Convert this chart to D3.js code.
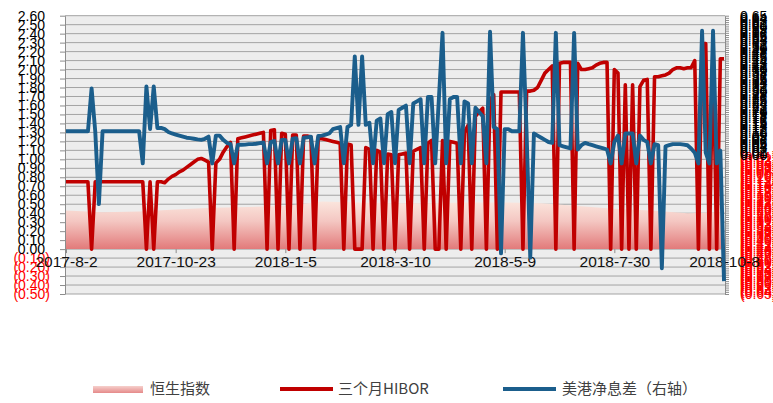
<!DOCTYPE html>
<html>
<head>
<meta charset="utf-8">
<script src="https://d3js.org/d3.v7.min.js"></script>
<style>
  body { margin: 0; background: #fff; }
  svg { font-family: Arial, "Liberation Sans", sans-serif; }
  .legend text { font-family: "Noto Sans CJK SC", Arial, sans-serif; font-size: 15px; fill: #404040; }
</style>
</head>
<body>
<div id="chart"></div>
<script>
// tick labels on the category axis and where they sit
var xLabels = ["2017-8-2", "2017-10-23", "2018-1-5", "2018-3-10", "2018-5-9", "2018-7-30", "2018-10-8"];
var xLabelIdx = [0, 30, 60, 90, 120, 150, 180];

// 三个月HIBOR (left axis)
var hibor = [
  .75,.75,.75,.75,.75,.75,.75,0,.75,.75,
  .75,.75,.75,.75,.75,.75,.75,.75,.75,.75,
  .75,.75,0,.75,0,.75,.75,.74,.78,.81,
  .83,.86,.88,.91,.94,.97,1.00,1.01,.99,.97,
  0,.96,1.00,1.08,1.14,1.19,0,1.23,1.24,1.25,
  1.26,1.27,1.28,1.29,1.30,0,1.32,1.33,0,1.29,
  1.28,0,1.27,1.27,0,1.26,1.26,1.25,0,1.24,
  1.23,1.22,1.21,1.20,1.19,1.18,0,1.17,1.16,0,
  0,0,1.13,1.11,0,1.10,1.08,0,1.06,1.05,
  0,1.05,1.06,1.07,0,1.09,1.11,1.13,0,1.18,
  1.21,0,0,1.21,0,1.20,1.19,1.18,0,1.30,
  1.38,0,1.48,1.53,1.57,0,1.66,1.72,0,1.75,
  1.75,1.75,1.75,1.75,1.75,0,1.76,1.76,1.77,1.80,
  1.88,1.96,2.00,2.04,0,2.07,2.08,2.08,2.08,0,
  2.07,2.00,2.00,2.01,2.02,2.05,2.07,2.08,2.08,0,
  2.00,1.96,0,1.83,0,1.83,0,1.81,1.88,1.89,
  0,1.92,1.92,1.93,1.94,1.96,2.00,2.02,2.02,2.01,
  2.02,2.02,2.10,0,2.29,2.29,0,2.27,0,2.12,
  2.12
];

// 美港净息差 (right axis)
var spread = [
  .11,.11,.11,.11,.11,.11,.11,.31,.11,-.23,
  .11,.11,.11,.11,.11,.11,.11,.11,.11,.11,
  .11,-.04,.32,.12,.32,.125,.126,.12,.107,.10,
  .095,.09,.085,.08,.078,.075,.072,.07,.075,.085,
  -.04,.09,.09,.07,.056,.05,-.04,.047,.047,.048,
  .05,.05,.052,.055,.058,-.04,.06,.065,-.04,.07,
  .07,-.04,.075,.078,-.04,.08,.082,.085,-.04,.088,
  .09,.095,.10,.12,.125,.13,-.04,.13,.14,.46,
  .14,.46,.14,.15,-.04,.16,.17,-.04,.19,.20,
  -.04,.21,.22,.23,-.04,.24,.25,.26,-.04,.27,
  .27,-.04,.26,.57,-.04,.26,.27,.27,-.04,.25,
  .24,-.04,.22,.20,.18,-.04,.575,.13,.12,-.46,
  .12,.12,.11,.11,.11,.57,.10,-.48,.10,.09,
  .08,.07,.06,.056,.57,.045,.04,.035,.03,.57,
  .025,.045,.056,.05,.045,.04,.035,.03,.025,-.04,
  .06,.09,-.04,.10,.10,.10,-.04,.09,.07,.06,
  -.04,.05,.045,-.53,.04,.045,.05,.05,.05,.048,
  .045,.03,.01,-.04,.58,.01,-.04,.58,-.04,.02,
  -.59
];

// 恒生指数 area, drawn on the left scale
var hsiIdx = [0, 10, 20, 30, 40, 50, 60, 70, 80, 90, 100, 110, 120, 130, 140, 150, 160, 170, 180];
var hsi = [.43,.41,.42,.44,.46,.47,.48,.53,.52,.51,.51,.52,.52,.51,.48,.45,.43,.40,.41];

var leftTicks = d3.range(-5, 27).map(function (d) { return d / 10; });
var rightTicks = d3.range(-65, 66).map(function (d) { return d / 100; });

var W = 773, H = 403;
var plotL = 65, plotR = 725, plotT = 15.7, plotB = 294;

var svg = d3.select("#chart").append("svg")
  .attr("width", W).attr("height", H);

var x = d3.scaleLinear().domain([0, hibor.length - 1]).range([66, 724]);
var yL = d3.scaleLinear().domain([-0.5, 2.6]).range([plotB, plotT]);
var yR = d3.scaleLinear().domain([-0.65, 0.65]).range([plotB, plotT]);

var fmt = d3.format(".2f");
function acct(v) {
  if (Math.abs(v) < 1e-9) return "0.00";
  return v < 0 ? "(" + fmt(-v) + ")" : fmt(v);
}

var defs = svg.append("defs");
var g1 = defs.append("linearGradient").attr("id", "hsiGrad")
  .attr("gradientUnits", "userSpaceOnUse")
  .attr("x1", 0).attr("x2", 0).attr("y1", yL(0.57)).attr("y2", yL(0));
g1.append("stop").attr("offset", "0%").attr("stop-color", "#fcebe2");
g1.append("stop").attr("offset", "45%").attr("stop-color", "#f4c7c2");
g1.append("stop").attr("offset", "100%").attr("stop-color", "#e27a7a");
var g2 = defs.append("linearGradient").attr("id", "legGrad")
  .attr("x1", 0).attr("x2", 0).attr("y1", 0).attr("y2", 1);
g2.append("stop").attr("offset", "0%").attr("stop-color", "#f6d0cc");
g2.append("stop").attr("offset", "100%").attr("stop-color", "#e58a8a");

// plot background
svg.append("rect")
  .attr("x", plotL).attr("y", plotT)
  .attr("width", plotR - plotL).attr("height", plotB - plotT)
  .attr("fill", "#ededed");

// grid
svg.append("g").selectAll("line")
  .data(leftTicks).enter().append("line")
  .attr("x1", plotL).attr("x2", plotR)
  .attr("y1", function (d) { return yL(d); })
  .attr("y2", function (d) { return yL(d); })
  .attr("stroke", "#a3a3a3").attr("stroke-width", 1);

// left axis
var axL = svg.append("g").attr("transform", "translate(" + plotL + ",0)")
  .call(d3.axisLeft(yL).tickValues(leftTicks).tickFormat(acct).tickSize(5).tickSizeOuter(0));
axL.select(".domain").attr("stroke", "#8c8c8c");
axL.selectAll(".tick line").attr("stroke", "#8c8c8c");
axL.selectAll(".tick text")
  .attr("font-size", 14)
  .attr("font-family", "Arial, 'Liberation Sans', sans-serif")
  .attr("x", function (d) { return d < 0 ? -15 : -20; })
  .attr("fill", function (d) { return d < 0 ? "#ff0000" : "#000"; });

// right axis
var axR = svg.append("g").attr("transform", "translate(" + plotR + ",0)")
  .call(d3.axisRight(yR).tickValues(rightTicks).tickFormat(acct).tickSize(4).tickSizeOuter(0));
axR.select(".domain").attr("stroke", "#8c8c8c");
axR.selectAll(".tick line").attr("stroke", "#8c8c8c");
axR.selectAll(".tick text")
  .attr("font-size", 14)
  .attr("font-family", "Arial, 'Liberation Sans', sans-serif")
  .attr("x", 15)
  .attr("fill", function (d) { return d < 0 ? "#ff0000" : "#000"; });

// 恒生指数 area
var hsiData = hsiIdx.map(function (d, i) { return { i: d, v: hsi[i] }; });
svg.append("path")
  .datum(hsiData)
  .attr("fill", "url(#hsiGrad)")
  .attr("d", d3.area()
    .x(function (d) { return x(d.i); })
    .y0(yL(0))
    .y1(function (d) { return yL(d.v); }));

// category axis on the zero line
var axX = svg.append("g").attr("transform", "translate(0," + yL(0) + ")")
  .call(d3.axisBottom(x).tickValues(xLabelIdx)
    .tickFormat(function (d, i) { return xLabels[i]; })
    .tickSize(4).tickSizeOuter(0));
axX.select(".domain").remove();
axX.selectAll(".tick line").attr("stroke", "#8c8c8c");
axX.selectAll(".tick text")
  .attr("font-size", 15.5)
  .attr("font-family", "Arial, 'Liberation Sans', sans-serif")
  .attr("fill", "#111")
  .attr("y", 7);

// lines
svg.append("path")
  .datum(hibor)
  .attr("fill", "none")
  .attr("stroke", "#c00000")
  .attr("stroke-width", 3.6)
  .attr("stroke-linejoin", "round")
  .attr("d", d3.line()
    .x(function (d, i) { return x(i); })
    .y(function (d) { return yL(d); }));

svg.append("path")
  .datum(spread)
  .attr("fill", "none")
  .attr("stroke", "#1b5e8c")
  .attr("stroke-width", 3.9)
  .attr("stroke-linejoin", "round")
  .attr("d", d3.line()
    .x(function (d, i) { return x(i); })
    .y(function (d) { return yR(d); }));

// legend
var leg = svg.append("g").attr("class", "legend");
var ly = 389;
leg.append("rect").attr("x", 93).attr("y", ly - 3).attr("width", 50).attr("height", 7)
  .attr("fill", "url(#legGrad)");
leg.append("text").attr("x", 150).attr("y", ly).attr("dy", "0.35em").text("恒生指数");
leg.append("line").attr("x1", 280).attr("x2", 333).attr("y1", ly).attr("y2", ly)
  .attr("stroke", "#c00000").attr("stroke-width", 4);
leg.append("text").attr("x", 338).attr("y", ly).attr("dy", "0.35em").text("三个月HIBOR");
leg.append("line").attr("x1", 503).attr("x2", 556).attr("y1", ly).attr("y2", ly)
  .attr("stroke", "#1b5e8c").attr("stroke-width", 4);
leg.append("text").attr("x", 562).attr("y", ly).attr("dy", "0.35em").text("美港净息差（右轴）");
</script>
</body>
</html>
